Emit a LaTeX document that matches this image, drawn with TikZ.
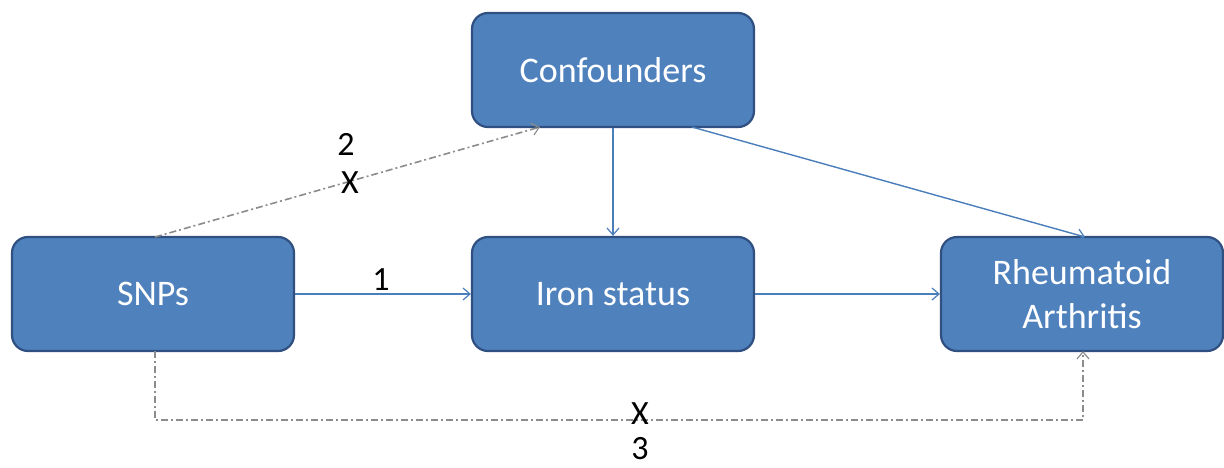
\documentclass[tikz,border=0pt]{standalone}
\usepackage{fontspec}
\setmainfont{Carlito}
\usetikzlibrary{arrows.meta}
\definecolor{boxfill}{HTML}{4F81BD}
\definecolor{boxline}{HTML}{2F5080}
\definecolor{arrblue}{HTML}{4A7EBB}
\definecolor{dashgray}{HTML}{8C8C8C}
\tikzset{
  box/.style={draw=boxline, line width=2.2pt, fill=boxfill, rounded corners=16pt,
    minimum width=282pt, minimum height=114pt, inner sep=0pt, text=white,
    font=\fontsize{36}{44}\selectfont, align=center},
  bluearrow/.style={draw=arrblue, line width=1.4pt, -{Straight Barb[length=7pt,width=12pt,line width=1.2pt]}},
  grayarrow/.style={draw=dashgray, line width=1.6pt, dash pattern=on 7pt off 3pt on 2pt off 3pt,
    -{Straight Barb[length=7pt,width=12pt,line width=1.2pt]}},
  lbl/.style={font=\fontsize{34}{36}\selectfont, text=black, inner sep=0pt}
}
\begin{document}
\begin{tikzpicture}[x=1pt,y=-1pt]
\useasboundingbox (0,0) rectangle (1224,467);
\node[box] (conf) at (613,70) {Confounders};
\node[box] (snps) at (153,294) {SNPs};
\node[box] (iron) at (613,294) {Iron status};
\node[box] (ra) at (1082,294) {Rheumatoid\\Arthritis};
\coordinate (c2) at (540,127);
\coordinate (c3) at (692,127);
\coordinate (ra2) at (1085,237);
\coordinate (s1) at (155,237);
\coordinate (s2) at (155,351);
\coordinate (b1) at (155,420);
\coordinate (b2) at (1083,420);
\coordinate (ra3) at (1083,351);
\draw[bluearrow] (snps.east) -- (iron.west);
\draw[bluearrow] (conf.south) -- (iron.north);
\draw[bluearrow] (iron.east) -- (ra.west);
\draw[bluearrow] (c3) -- (ra2);
\draw[grayarrow] (s1) -- (c2);
\draw[grayarrow] (s2) -- (b1) -- (b2) -- (ra3);
\node[lbl] (l1) at (381,280) {1};
\node[lbl] (l2) at (346,144) {2};
\node[lbl] (x2) at (350,183) {X};
\node[lbl] (x3) at (640,414) {X};
\node[lbl] (l3) at (640,449) {3};
\end{tikzpicture}
\end{document}
